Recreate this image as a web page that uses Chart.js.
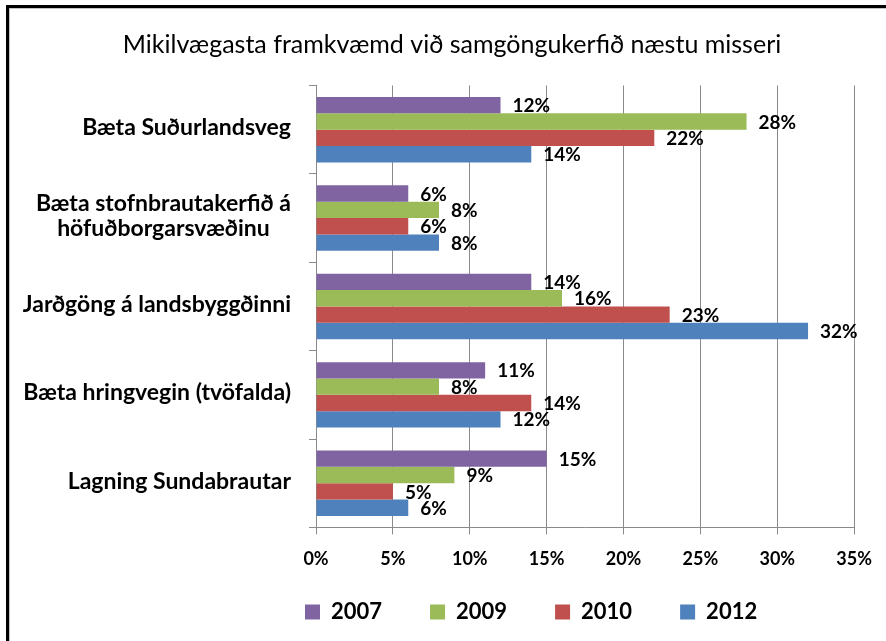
<!DOCTYPE html>
<html>
<head>
<meta charset="utf-8">
<script src="https://cdn.jsdelivr.net/npm/chart.js@4.4.1/dist/chart.umd.min.js"></script>
<style>
  html, body { margin: 0; padding: 0; background: #fff; }
  #frame { position: absolute; left: 6px; top: 5px; right: 0; bottom: 0; border-left: 3px solid #000; border-top: 3px solid #000; }
  #wrap { position: absolute; left: 9px; top: 8px; width: 877px; height: 633px; box-sizing: border-box; border-left: 1px solid #c4c4c4; border-top: 1px solid #c4c4c4; }
  #box { position: relative; width: 876px; height: 632px; }
</style>
</head>
<body>
<div id="frame"></div>
<div id="wrap"><div id="box"><canvas id="chart"></canvas></div></div>
<script>
const categories = [
  "Bæta Suðurlandsveg",
  ["Bæta stofnbrautakerfið á", "höfuðborgarsvæðinu"],
  "Jarðgöng á landsbyggðinni",
  "Bæta hringvegin (tvöfalda)",
  "Lagning Sundabrautar"
];
const years = ["2007", "2009", "2010", "2012"];
const values2007 = [12, 6, 14, 11, 15];
const values2009 = [28, 8, 16, 8, 9];
const values2010 = [22, 6, 23, 14, 5];
const values2012 = [14, 8, 32, 12, 6];
const colors = ["#8064A2", "#9BBB59", "#C0504D", "#4F81BD"];
const xMax = 35;
const xStep = 5;

const font = "Lato";
const gridColor = "#8a8a8a";

// value labels to the right of each bar
const barLabels = {
  id: "barLabels",
  afterDatasetsDraw(chart) {
    const ctx = chart.ctx;
    ctx.save();
    ctx.font = "bold 19px " + font;
    ctx.fillStyle = "#000";
    ctx.textAlign = "left";
    ctx.textBaseline = "middle";
    chart.data.datasets.forEach((ds, i) => {
      chart.getDatasetMeta(i).data.forEach((bar, j) => {
        ctx.fillText(ds.data[j] + "%", bar.x + 12, bar.y + 1);
      });
    });
    ctx.restore();
  }
};

// category names: block right-aligned, lines centred inside the block
const categoryLabels = {
  id: "categoryLabels",
  afterDraw(chart) {
    const ctx = chart.ctx;
    const yScale = chart.scales.y;
    const right = 281;
    const lineH = 25;
    ctx.save();
    ctx.font = "bold 23px " + font;
    ctx.fillStyle = "#000";
    ctx.textAlign = "center";
    ctx.textBaseline = "middle";
    categories.forEach((cat, i) => {
      const lines = Array.isArray(cat) ? cat : [cat];
      const blockW = Math.max(...lines.map((l) => ctx.measureText(l).width));
      const cx = right - blockW / 2;
      const y0 = yScale.getPixelForValue(i) - 2 - ((lines.length - 1) * lineH) / 2;
      lines.forEach((l, k) => ctx.fillText(l, cx, y0 + k * lineH));
    });
    ctx.restore();
  }
};

// move the legend row to where the original has it
const legendPlace = {
  id: "legendPlace",
  afterLayout(chart) {
    const lg = chart.legend;
    const pad = lg.options.labels.padding;
    lg.left = 295 - pad;
    lg.right = lg.left + 876;
    lg.top = 605 - 13 - pad;
    lg.bottom = chart.height;
  }
};

const chart = new Chart("chart", {
  type: "bar",
  data: {
    labels: categories,
    datasets: [
      { label: years[0], data: values2007, backgroundColor: colors[0] },
      { label: years[1], data: values2009, backgroundColor: colors[1] },
      { label: years[2], data: values2010, backgroundColor: colors[2] },
      { label: years[3], data: values2012, backgroundColor: colors[3] }
    ]
  },
  options: {
    indexAxis: "y",
    responsive: true,
    maintainAspectRatio: false,
    animation: false,
    datasets: { bar: { categoryPercentage: 0.74, barPercentage: 1, borderWidth: 0 } },
    layout: { padding: { left: 38, right: 30, top: 0, bottom: 0 } },
    scales: {
      x: {
        min: 0,
        max: xMax,
        ticks: {
          stepSize: xStep,
          color: "#000",
          padding: 14,
          font: { family: font, size: 18, weight: "bold" },
          callback: (v) => v + "%"
        },
        grid: { color: gridColor, tickLength: 7, drawTicks: true },
        border: { color: gridColor }
      },
      y: {
        ticks: { display: false },
        grid: { offset: true, drawOnChartArea: false, color: gridColor, tickLength: 7 },
        border: { color: gridColor },
        afterFit(scale) { scale.width = 268; }
      }
    },
    plugins: {
      title: {
        display: true,
        text: "Mikilvægasta framkvæmd við samgöngukerfið næstu misseri",
        color: "#000",
        font: { family: font, size: 25, weight: "normal" },
        padding: { top: 21, bottom: 25.5 }
      },
      legend: {
        position: "bottom",
        align: "start",
        maxHeight: 57,
        labels: {
          boxWidth: 15,
          boxHeight: 15,
          padding: 48,
          color: "#000",
          font: { family: font, size: 22, weight: "bold" }
        }
      },
      tooltip: { enabled: false }
    }
  },
  plugins: [barLabels, categoryLabels, legendPlace]
});
</script>
</body>
</html>
